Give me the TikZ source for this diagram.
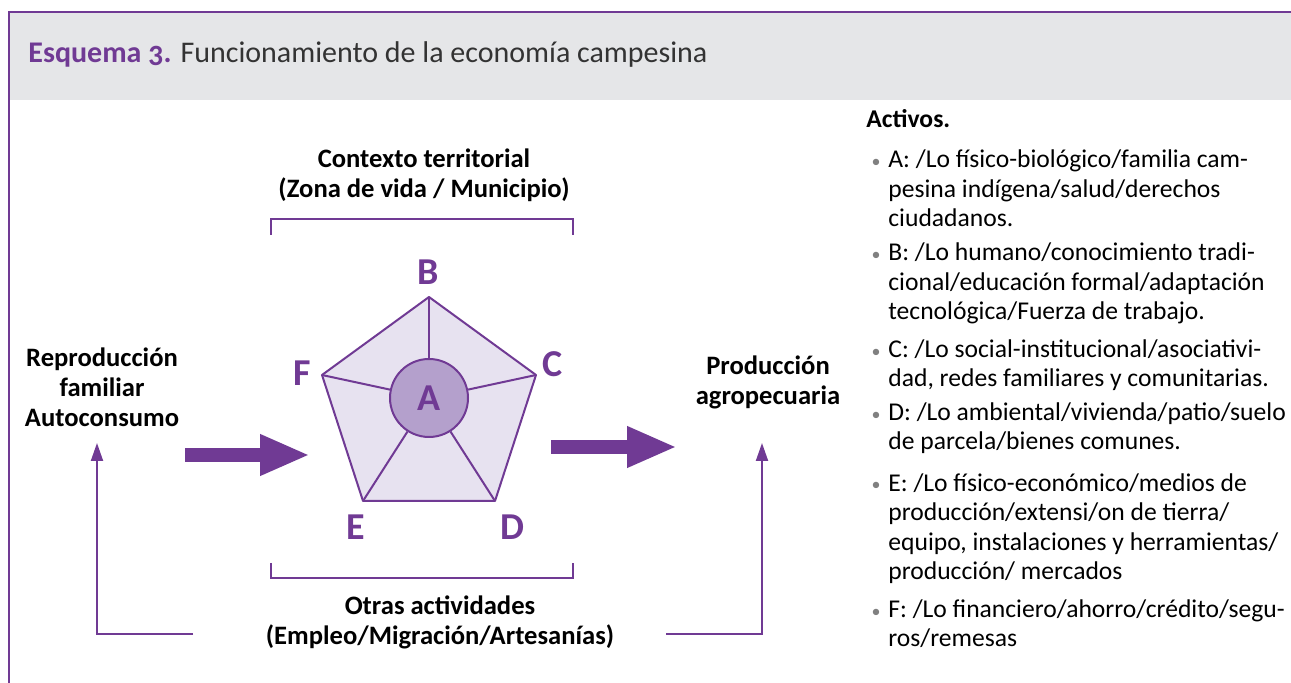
\documentclass[tikz,border=0pt]{standalone}
\usepackage{fontspec}
\setmainfont{Carlito}
\usetikzlibrary{arrows.meta}
\definecolor{morado}{RGB}{112,58,148}
\definecolor{lila}{RGB}{231,226,240}
\definecolor{lilaosc}{RGB}{180,160,204}
\definecolor{gris}{RGB}{229,230,232}
\begin{document}
\begin{tikzpicture}[x=0.5pt,y=-0.5pt,
    label node/.style={font=\fontsize{13.3}{15}\selectfont\bfseries,align=center,inner sep=0pt},
    letter node/.style={font=\fontsize{19}{19}\selectfont\bfseries,text=morado,inner sep=0pt},
    item node/.style={anchor=base west,align=left,inner sep=0pt,font=\fontsize{12.8}{14.75}\selectfont},
    dot node/.style={anchor=base,inner sep=0pt,text=gray,font=\fontsize{9}{9}\selectfont},
    big arrow/.style={morado,line width=7pt,-{Triangle[length=25pt,width=19pt]}},
    back arrow/.style={morado,line width=1pt,-{Triangle[length=9pt,width=6pt]}},
    bracket/.style={morado,line width=1.2pt}]
    \useasboundingbox (0,0) rectangle (1291,683);

    % marco y cabecera
    \fill[gris] (8,12) rectangle (1291,100);
    \draw[morado,line width=1pt] (1291,12) -- (9,12) -- (9,683);
    \node[anchor=base west,inner sep=0pt,text=black!80,font=\fontsize{15}{15}\selectfont] (titulo) at (28,63)
        {\textcolor{morado}{\bfseries Esquema \addfontfeatures{Numbers=OldStyle}3.} Funcionamiento de la economía campesina};

    % textos del esquema
    \node[label node] (contexto) at (424,175) {Contexto territorial\\(Zona de vida / Municipio)};
    \node[label node] (otras) at (440,622) {Otras actividades\\(Empleo/Migración/Artesanías)};
    \node[label node] (repro) at (102,387) {Reproducción\\familiar\\Autoconsumo};
    \node[label node] (prod) at (768,382) {Producción\\agropecuaria};

    \draw[bracket] (271,235) -- (271,219) -- (573,219) -- (573,235);
    \draw[bracket] (271,563) -- (271,578) -- (573,578) -- (573,563);

    % pentagono de activos
    \coordinate (b) at (429,297);
    \coordinate (c) at (536,375);
    \coordinate (d) at (495,501);
    \coordinate (e) at (363,501);
    \coordinate (f) at (322,375);
    \filldraw[fill=lila,draw=morado,line width=1pt,line join=round] (b) -- (c) -- (d) -- (e) -- (f) -- cycle;
    \node[circle,draw=morado,fill=lilaosc,line width=1pt,minimum size=39pt,inner sep=0pt,
        font=\fontsize{19}{19}\selectfont\bfseries,text=morado] (A) at (429,398) {A};
    \path[morado,line width=1pt]
        (b) edge (A)
        (c) edge (A)
        (d) edge (A)
        (e) edge (A)
        (f) edge (A)
        ;
    \node[letter node] (lb) at (428,272) {B};
    \node[letter node] (lc) at (553,364) {C};
    \node[letter node] (ld) at (512,527) {D};
    \node[letter node] (le) at (356,527) {E};
    \node[letter node] (lf) at (302,373) {F};

    % flechas
    \coordinate (ent1) at (185,455);
    \coordinate (ent2) at (310,455);
    \coordinate (sal1) at (551,447);
    \coordinate (sal2) at (677,447);
    \draw[big arrow] (ent1) -- (ent2);
    \draw[big arrow] (sal1) -- (sal2);
    \coordinate (izq1) at (193,634);
    \coordinate (izq2) at (97,443);
    \coordinate (der1) at (666,634);
    \coordinate (der2) at (762,443);
    \draw[back arrow] (izq1) -| (izq2);
    \draw[back arrow] (der1) -| (der2);

    % lista de activos (anclada en la base de la ultima linea)
    \node[anchor=base west,inner sep=0pt,font=\fontsize{12.8}{14.75}\selectfont\bfseries] (activos) at (866,128) {Activos.};
    \node[item node] (ia) at (888,227) {A: /Lo físico-biológico/familia cam-\\pesina indígena/salud/derechos\\ciudadanos.};
    \node[item node] (ib) at (888,320) {B: /Lo humano/conocimiento tradi-\\cional/educación formal/adaptación\\tecnológica/Fuerza de trabajo.};
    \node[item node] (ic) at (888,387) {C: /Lo social-institucional/asociativi-\\dad, redes familiares y comunitarias.};
    \node[item node] (id) at (888,450) {D: /Lo ambiental/vivienda/patio/suelo\\de parcela/bienes comunes.};
    \node[item node] (ie) at (888,580) {E: /Lo físico-económico/medios de\\producción/extensi/on de tierra/\\equipo, instalaciones y herramientas/\\producción/ mercados};
    \node[item node] (if) at (888,647) {F: /Lo financiero/ahorro/crédito/segu-\\ros/remesas};
    \foreach \y in {168,261,358,421,491,618}
        \node[dot node] at (876,\y) {\textbullet};
\end{tikzpicture}
\end{document}
